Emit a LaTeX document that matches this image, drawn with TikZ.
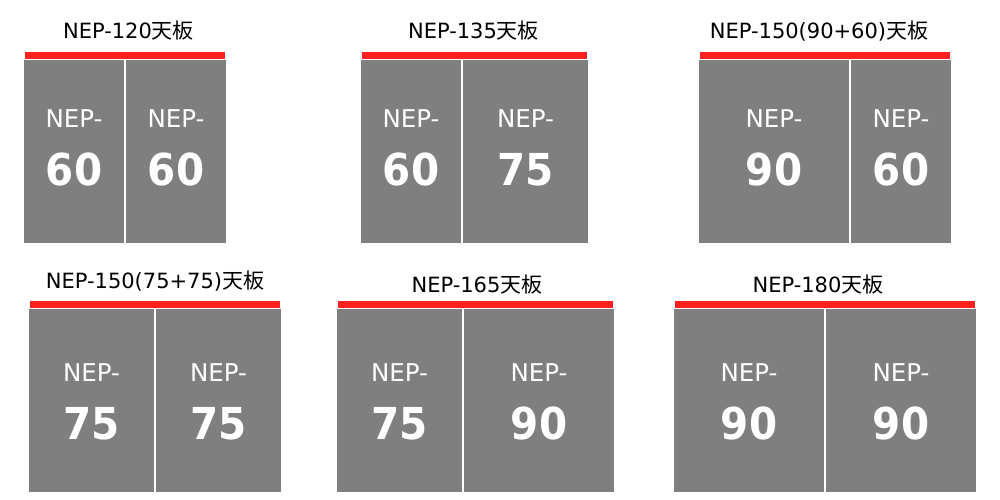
\documentclass[tikz,border=0pt]{standalone}
\usepackage{fontspec}
\setmainfont{DejaVu Sans}
\newfontfamily\jp{Noto Sans CJK JP}
\definecolor{panelgray}{RGB}{127,127,127}
\definecolor{barred}{RGB}{255,32,32}
\tikzset{
 panel/.style={fill=panelgray, inner sep=0pt, minimum height=183pt, anchor=north west},
 redbar/.style={fill=barred, inner sep=0pt, minimum height=7pt, anchor=north west},
 neplbl/.style={text=white, font=\fontsize{24.5}{28}\selectfont, anchor=base, inner sep=0pt},
 numlbl/.style={text=white, font=\fontsize{44}{50}\selectfont\bfseries, anchor=base, inner sep=0pt, xscale=0.92},
 titlelbl/.style={font=\fontsize{21}{24}\selectfont, anchor=base, inner sep=0pt},
}
\newcommand\nepPanel[7]{%
 \node[panel, minimum width=#3pt] (#1) at (#2,#4) {};
 \node[neplbl] (#1-a) at (#2+#3/2,#5) {NEP-};
 \node[numlbl] (#1-b) at (#2+#3/2,#6) {#7};
}
\begin{document}
\begin{tikzpicture}[x=1pt,y=-1pt]
\useasboundingbox[fill=white] (0,0) rectangle (1000,500);
% row 1
\node[titlelbl] (t1) at (128.5,39) {NEP-120{\jp 天板}};
\node[redbar, minimum width=200pt] (b1) at (25,52) {};
\nepPanel{p1a}{24}{100}{60}{128}{185}{60}
\nepPanel{p1b}{126}{100}{60}{128}{185}{60}

\node[titlelbl] (t2) at (473.5,39) {NEP-135{\jp 天板}};
\node[redbar, minimum width=225pt] (b2) at (362,52) {};
\nepPanel{p2a}{361}{100}{60}{128}{185}{60}
\nepPanel{p2b}{463}{125}{60}{128}{185}{75}

\node[titlelbl] (t3) at (819,39) {NEP-150(90+60){\jp 天板}};
\node[redbar, minimum width=250pt] (b3) at (700,52) {};
\nepPanel{p3a}{699}{150}{60}{128}{185}{90}
\nepPanel{p3b}{851}{100}{60}{128}{185}{60}
% row 2
\node[titlelbl] (t4) at (155,288) {NEP-150(75+75){\jp 天板}};
\node[redbar, minimum width=250pt] (b4) at (30,301) {};
\nepPanel{p4a}{29}{125}{309}{381}{439}{75}
\nepPanel{p4b}{156}{125}{309}{381}{439}{75}

\node[titlelbl] (t5) at (477,292) {NEP-165{\jp 天板}};
\node[redbar, minimum width=275pt] (b5) at (338,301) {};
\nepPanel{p5a}{337}{125}{309}{381}{439}{75}
\nepPanel{p5b}{464}{150}{309}{381}{439}{90}

\node[titlelbl] (t6) at (818,292) {NEP-180{\jp 天板}};
\node[redbar, minimum width=300pt] (b6) at (675,301) {};
\nepPanel{p6a}{674}{150}{309}{381}{439}{90}
\nepPanel{p6b}{826}{150}{309}{381}{439}{90}
\end{tikzpicture}
\end{document}
